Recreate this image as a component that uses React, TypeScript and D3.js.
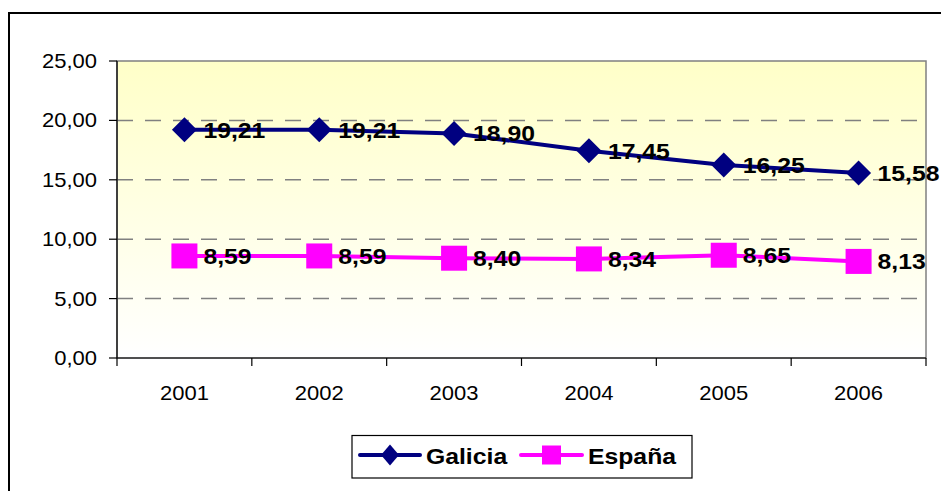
import React from "react";
import * as d3 from "d3";

const years = ["2001", "2002", "2003", "2004", "2005", "2006"];
const galicia = [19.21, 19.21, 18.9, 17.45, 16.25, 15.58];
const espana = [8.59, 8.59, 8.4, 8.34, 8.65, 8.13];
const yTicks = [0, 5, 10, 15, 20, 25];
const seriesNames = ["Galicia", "España"];

const W = 941;
const H = 491;
const plot = { left: 117, right: 926, top: 61, bottom: 358 };
const SX = 1.1;

const fmt = (v: number) => v.toFixed(2).replace(".", ",");

export default function App() {
  const x = d3
    .scaleBand<string>()
    .domain(years)
    .range([plot.left, plot.right]);
  const y = d3.scaleLinear().domain([0, 25]).range([plot.bottom, plot.top]);
  const cx = (yr: string) => (x(yr) as number) + x.bandwidth() / 2;
  const line = d3
    .line<number>()
    .x((_, i) => cx(years[i]))
    .y((d) => y(d));

  const font = "'Liberation Sans', Arial, sans-serif";

  const diamond = (px: number, py: number, rx: number, ry: number) =>
    `M${px},${py - ry}L${px + rx},${py}L${px},${py + ry}L${px - rx},${py}Z`;

  const boundaries = d3.range(years.length + 1).map((i) => plot.left + i * x.step());

  return (
    <svg
      width={W}
      height={H}
      style={{ position: "absolute", left: 0, top: 0, display: "block" }}
      fontFamily={font}
    >
      <defs>
        <linearGradient id="bg" x1="0" y1="0" x2="0" y2="1">
          <stop offset="0%" stopColor="#FFFFC8" />
          <stop offset="100%" stopColor="#FFFFFF" />
        </linearGradient>
      </defs>
      <rect x={0} y={0} width={W} height={H} fill="#fff" />
      <rect x={9} y={13} width={W + 10} height={H + 10} fill="none" stroke="#000" strokeWidth={2} />
      <rect
        x={plot.left}
        y={plot.top}
        width={plot.right - plot.left}
        height={plot.bottom - plot.top}
        fill="url(#bg)"
        stroke="#808080"
        strokeWidth={1.5}
      />
      {yTicks
        .filter((t) => t > 0 && t < 25)
        .map((t) => (
          <line
            key={"g" + t}
            x1={plot.left}
            x2={plot.right}
            y1={y(t)}
            y2={y(t)}
            stroke="#808080"
            strokeWidth={1.5}
            strokeDasharray="16,12"
          />
        ))}
      <line x1={plot.left} x2={plot.left} y1={plot.top} y2={plot.bottom} stroke="#000" strokeWidth={1.2} />
      {yTicks.map((t) => (
        <g key={"yt" + t}>
          <line x1={plot.left - 8} x2={plot.left} y1={y(t)} y2={y(t)} stroke="#000" strokeWidth={1.2} />
          <text
            transform={`translate(${plot.left - 20},${y(t) + 7}) scale(${SX},1)`}
            textAnchor="end"
            fontSize={20}
            fill="#000"
          >
            {fmt(t)}
          </text>
        </g>
      ))}
      <line x1={plot.left} x2={plot.right} y1={plot.bottom} y2={plot.bottom} stroke="#000" strokeWidth={1.2} />
      {boundaries.map((bx, i) => (
        <line key={"xt" + i} x1={bx} x2={bx} y1={plot.bottom} y2={plot.bottom + 8} stroke="#000" strokeWidth={1.2} />
      ))}
      {years.map((yr) => (
        <text
          key={"xl" + yr}
          transform={`translate(${cx(yr)},${plot.bottom + 42}) scale(${SX},1)`}
          textAnchor="middle"
          fontSize={20}
          fill="#000"
        >
          {yr}
        </text>
      ))}
      <path d={line(galicia) || ""} fill="none" stroke="#000080" strokeWidth={4} />
      <path d={line(espana) || ""} fill="none" stroke="#FF00FF" strokeWidth={4} />
      {galicia.map((v, i) => (
        <path key={"gm" + i} d={diamond(cx(years[i]), y(v), 12.5, 12.5)} fill="#000080" />
      ))}
      {espana.map((v, i) => (
        <rect key={"em" + i} x={cx(years[i]) - 13} y={y(v) - 12.5} width={26} height={25} fill="#FF00FF" />
      ))}
      {galicia.map((v, i) => (
        <text
          key={"gl" + i}
          transform={`translate(${cx(years[i]) + 19},${y(v) + 8}) scale(${SX},1)`}
          fontSize={22.5}
          fontWeight="bold"
          fill="#000"
        >
          {fmt(v)}
        </text>
      ))}
      {espana.map((v, i) => (
        <text
          key={"el" + i}
          transform={`translate(${cx(years[i]) + 19},${y(v) + 8}) scale(${SX},1)`}
          fontSize={22.5}
          fontWeight="bold"
          fill="#000"
        >
          {fmt(v)}
        </text>
      ))}
      <rect x={352} y={435.5} width={340} height={42.5} fill="#fff" stroke="#000" strokeWidth={1.2} />
      <line x1={360} x2={420} y1={455} y2={455} stroke="#000080" strokeWidth={4} strokeLinecap="round" />
      <path d={diamond(390, 455, 9, 10.5)} fill="#000080" />
      <text transform={`translate(426,464) scale(${SX},1)`} fontSize={22.5} fontWeight="bold" fill="#000">
        {seriesNames[0]}
      </text>
      <line x1={521} x2={582} y1={455} y2={455} stroke="#FF00FF" strokeWidth={4} strokeLinecap="round" />
      <rect x={542} y={445.5} width={19} height={19} fill="#FF00FF" />
      <text transform={`translate(588,464) scale(${SX},1)`} fontSize={22.5} fontWeight="bold" fill="#000">
        {seriesNames[1]}
      </text>
    </svg>
  );
}
